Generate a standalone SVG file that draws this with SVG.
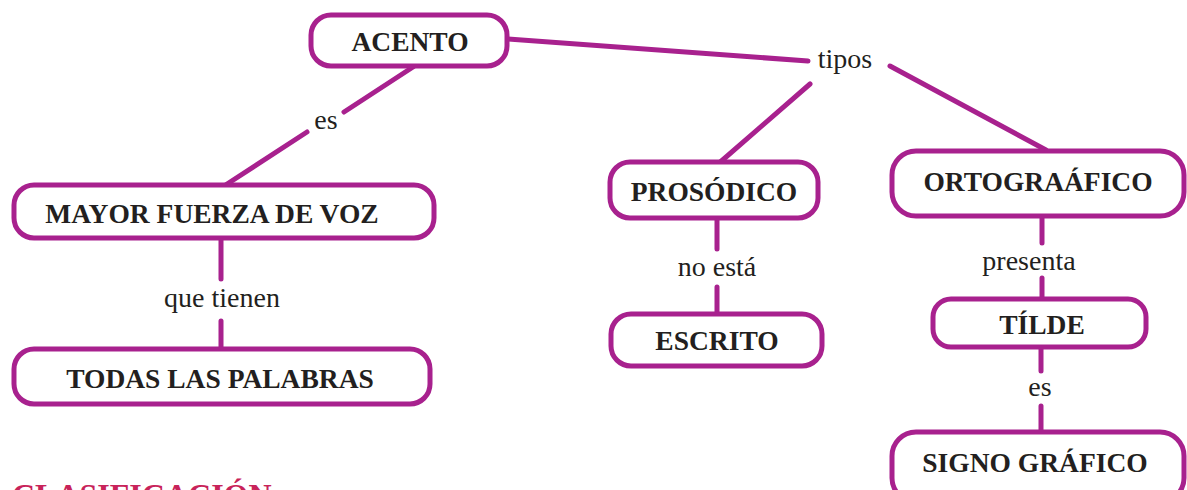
<svg xmlns="http://www.w3.org/2000/svg" width="1187" height="490" viewBox="0 0 1187 490">
<style>
.box{fill:#fff;stroke:#a8218e;stroke-width:5}
.ln{stroke:#a8218e;stroke-width:5;stroke-linecap:round;fill:none}
.nt{font-family:"Liberation Serif",serif;font-weight:bold;font-size:27.5px;fill:#231f20;text-anchor:middle}
.lt{font-family:"Liberation Serif",serif;font-size:28px;fill:#231f20;text-anchor:middle}
.hd{font-family:"Liberation Serif",serif;font-weight:bold;font-size:32px;fill:#c8235a}
</style>
<rect width="1187" height="490" fill="#fff"/>
<g id="connectors">
<line class="ln" x1="508" y1="39" x2="808" y2="61"/>
<line class="ln" x1="810" y1="84" x2="718" y2="164"/>
<line class="ln" x1="890" y1="66" x2="1046" y2="150"/>
<line class="ln" x1="413" y1="67" x2="344" y2="112"/>
<line class="ln" x1="307" y1="132" x2="224" y2="186"/>
<line class="ln" x1="221" y1="238" x2="221" y2="279"/>
<line class="ln" x1="221" y1="321" x2="221" y2="349"/>
<line class="ln" x1="717" y1="218" x2="717" y2="249"/>
<line class="ln" x1="717" y1="287" x2="717" y2="314"/>
<line class="ln" x1="1042" y1="216" x2="1042" y2="243"/>
<line class="ln" x1="1042" y1="278" x2="1042" y2="299"/>
<line class="ln" x1="1041" y1="347" x2="1041" y2="371"/>
<line class="ln" x1="1041" y1="406" x2="1041" y2="432"/>
</g>
<g id="labels">
<text class="lt" x="845" y="68">tipos</text>
<text class="lt" x="326" y="129">es</text>
<text class="lt" x="222" y="307">que tienen</text>
<text class="lt" x="717" y="276">no está</text>
<text class="lt" x="1029" y="270">presenta</text>
<text class="lt" x="1040" y="396">es</text>
</g>
<g id="acento">
<rect class="box" x="311" y="15" width="196" height="51" rx="20"/>
<text class="nt" x="410" y="51">ACENTO</text>
</g>
<g id="mayor">
<rect class="box" x="14" y="185" width="420" height="53" rx="20"/>
<text class="nt" x="212" y="223">MAYOR FUERZA DE VOZ</text>
</g>
<g id="todas">
<rect class="box" x="14" y="349" width="416" height="55" rx="20"/>
<text class="nt" x="220" y="388">TODAS LAS PALABRAS</text>
</g>
<g id="prosodico">
<rect class="box" x="610" y="162" width="208" height="56" rx="20"/>
<text class="nt" x="714" y="201">PROSÓDICO</text>
</g>
<g id="escrito">
<rect class="box" x="611" y="314" width="211" height="52" rx="20"/>
<text class="nt" x="717" y="350">ESCRITO</text>
</g>
<g id="ortografico">
<rect class="box" x="892" y="151" width="292" height="65" rx="24"/>
<text class="nt" x="1038" y="191">ORTOGRAÁFICO</text>
</g>
<g id="tilde">
<rect class="box" x="933" y="299" width="213" height="48" rx="18"/>
<text class="nt" x="1042" y="334">TÍLDE</text>
</g>
<g id="signo">
<rect class="box" x="892" y="432" width="292" height="70" rx="24"/>
<text class="nt" x="1035" y="472">SIGNO GRÁFICO</text>
</g>
<text class="hd" x="12" y="506">CLASIFICACIÓN</text>
</svg>
